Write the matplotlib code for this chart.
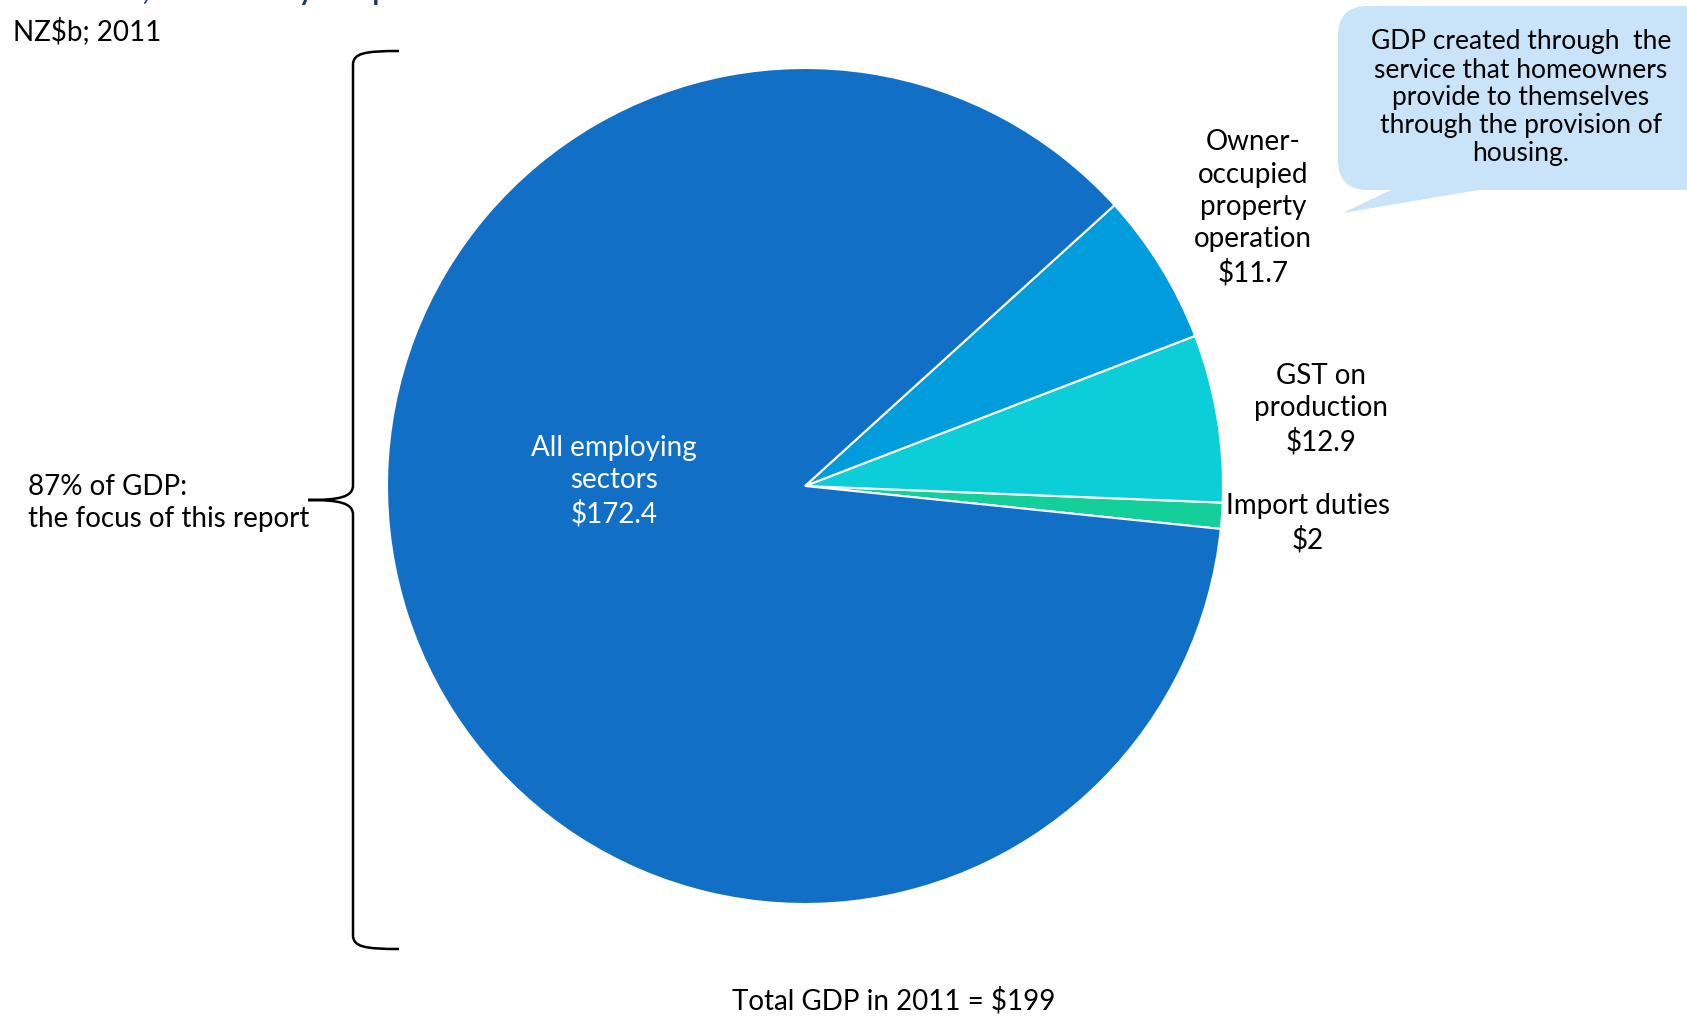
import matplotlib.pyplot as plt
from matplotlib.patches import FancyBboxPatch, Polygon, PathPatch
from matplotlib.path import Path

plt.rcParams['font.family'] = ['Lato', 'DejaVu Sans']

labels = ['Import duties', 'GST on\nproduction', 'Owner-\noccupied\nproperty\noperation', 'All employing\nsectors']
values = [2, 12.9, 11.7, 172.4]
colours = ['#14CF9A', '#0CCED8', '#009CDB', '#1170C6']
total = 199

W, H = 1687, 1016
fig = plt.figure(figsize=(W / 100, H / 100), dpi=100)

# pie axes: centre (805, 486) px from top, radius 418 px
cx, cy, r = 805, 486, 418
ax = fig.add_axes([(cx - r) / W, (H - cy - r) / H, 2 * r / W, 2 * r / H])
ax.pie(values, colors=colours, startangle=-5.9, counterclock=True, radius=1,
       wedgeprops=dict(edgecolor='white', linewidth=1.5))
ax.set_xlim(-1, 1)
ax.set_ylim(-1, 1)
ax.axis('off')

# overlay in pixel coords for text and shapes
ov = fig.add_axes([0, 0, 1, 1], facecolor='none')
ov.set_xlim(0, W)
ov.set_ylim(H, 0)
ov.axis('off')

fs = 20
ls = 1.3
ov.text(614, 481, f'{labels[3]}\n${values[3]}', color='white', fontsize=fs, ha='center', va='center', linespacing=ls)
ov.text(1253, 208, f'{labels[2]}\n${values[2]}', fontsize=fs, ha='center', va='center', linespacing=ls)
ov.text(1321, 409, f'{labels[1]}\n${values[1]}', fontsize=fs, ha='center', va='center', linespacing=ls)
ov.text(1308, 523, f'{labels[0]}\n${values[0]}', fontsize=fs, ha='center', va='center', linespacing=ls)

ov.text(13, 31, 'NZ$b; 2011', fontsize=fs, ha='left', va='center')
ov.text(13, -8, 'Total GDP; % of total by component', fontsize=fs, ha='left', va='center',
        color='#1F3864', fontweight='bold')
ov.text(28, 503, '87% of GDP:\nthe focus of this report', fontsize=fs, ha='left', va='center', linespacing=ls)
ov.text(894, 1001, f'Total GDP in 2011 = ${total}', fontsize=fs, ha='center', va='center')

# brace
verts = [(399, 51), (365, 51), (353, 53), (353, 65),
         (353, 485),
         (353, 497), (340, 500), (308, 500),
         (340, 500), (353, 503), (353, 515),
         (353, 935),
         (353, 947), (365, 949), (399, 949)]
codes = [Path.MOVETO, Path.CURVE4, Path.CURVE4, Path.CURVE4,
         Path.LINETO,
         Path.CURVE4, Path.CURVE4, Path.CURVE4,
         Path.CURVE4, Path.CURVE4, Path.CURVE4,
         Path.LINETO,
         Path.CURVE4, Path.CURVE4, Path.CURVE4]
ov.add_patch(PathPatch(Path(verts, codes), fill=False, lw=1.8, color='black'))

# callout bubble
bubble = '#C9E3F9'
ov.add_patch(FancyBboxPatch((1338, 6), 400, 184, boxstyle='round,pad=0,rounding_size=30',
                            fc=bubble, ec='none'))
ov.add_patch(Polygon([(1395, 188), (1490, 188), (1343, 213)], closed=True, fc=bubble, ec='none'))
ov.text(1521, 98, 'GDP created through  the\nservice that homeowners\nprovide to themselves\nthrough the provision of\nhousing.',
        fontsize=19, ha='center', va='center', linespacing=1.15)

fig.savefig('out.png', dpi=100)
